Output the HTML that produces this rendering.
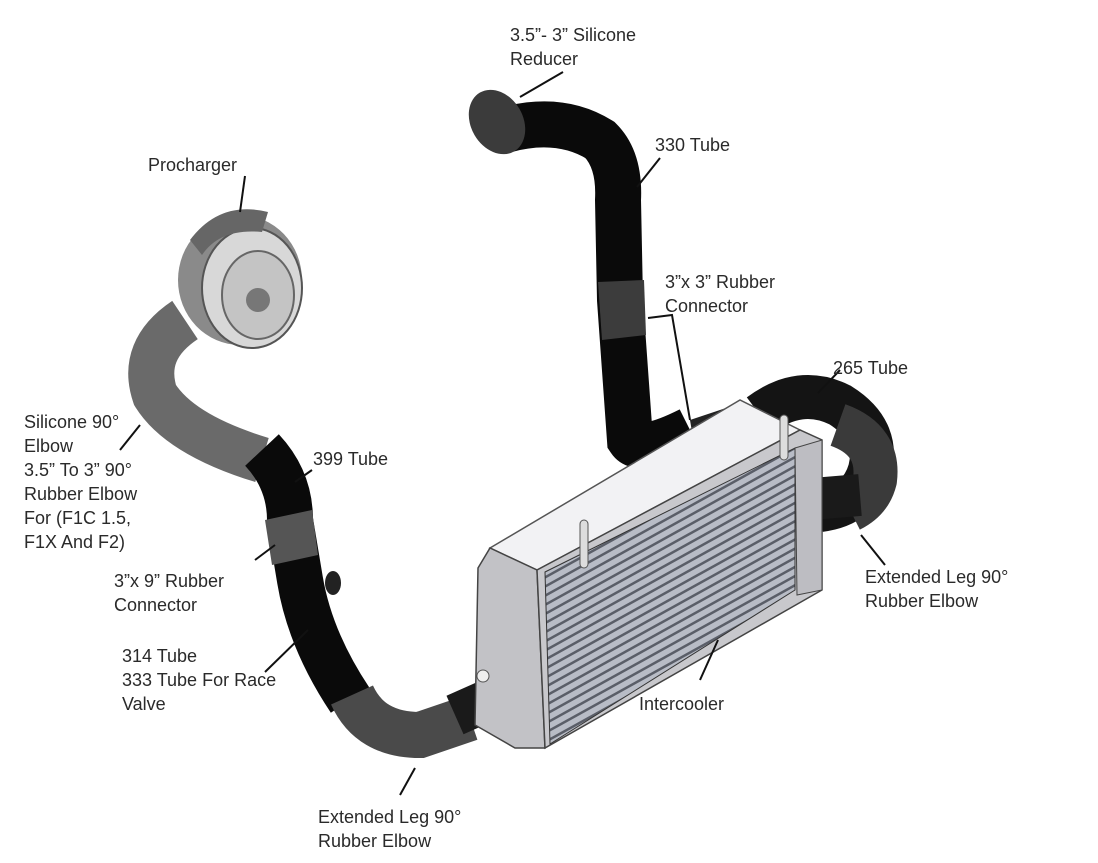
<!DOCTYPE html>
<html><head><meta charset="utf-8"><style>
html,body{margin:0;padding:0;background:#fff;}
svg{display:block}
text{font-family:"Liberation Sans",sans-serif;font-size:18px;fill:#2a2a2a;}
</style></head><body>
<svg width="1098" height="863" viewBox="0 0 1098 863">
<defs>
<pattern id="fins" width="8" height="8" patternUnits="userSpaceOnUse" patternTransform="rotate(-29)">
<rect width="8" height="8" fill="#b8bcc6"/><rect y="0" width="8" height="2.5" fill="#5a5e68"/>
</pattern>
</defs>
<!-- top tube 330 -->
<path d="M505 130 Q560 115 600 140 Q620 160 618 200 L620 300 L630 440 Q640 455 690 430" fill="none" stroke="#0a0a0a" stroke-width="46"/>
<ellipse cx="497" cy="122" rx="26" ry="34" fill="#3b3b3b" transform="rotate(-30 497 122)"/>
<path d="M598 282 L644 280 L646 335 L602 340 Z" fill="#3c3c3c"/>
<path d="M690 420 L735 405 L740 440 L695 450 Z" fill="#222"/>
<!-- 265 tube / right elbow -->
<path d="M760 415 Q800 385 840 405 Q880 430 870 470 Q860 505 820 510" fill="none" stroke="#141414" stroke-width="44"/>
<path d="M838 425 Q880 440 875 480 Q870 500 850 510" fill="none" stroke="#3a3a3a" stroke-width="44"/>
<path d="M800 500 L860 495" stroke="#1a1a1a" stroke-width="42"/>
<!-- left procharger elbow -->
<path d="M185 320 Q140 350 155 395 Q180 435 262 460" fill="none" stroke="#6a6a6a" stroke-width="46"/>
<path d="M262 450 Q290 480 290 520 L300 580 Q310 640 350 700" fill="none" stroke="#0a0a0a" stroke-width="46"/>
<path d="M265 520 L312 510 L318 555 L272 565 Z" fill="#555"/>
<ellipse cx="333" cy="583" rx="8" ry="12" fill="#222"/>
<path d="M352 695 Q370 735 420 735 L470 718" fill="none" stroke="#4a4a4a" stroke-width="46"/>
<path d="M455 715 L500 695" stroke="#1a1a1a" stroke-width="42"/>
<g>
<ellipse cx="240" cy="280" rx="62" ry="65" fill="#8a8a8a"/>
<ellipse cx="252" cy="288" rx="50" ry="60" fill="#d8d8d8" stroke="#555" stroke-width="2"/>
<ellipse cx="258" cy="295" rx="36" ry="44" fill="#c4c4c4" stroke="#666" stroke-width="2"/>
<circle cx="258" cy="300" r="12" fill="#777"/>
<path d="M190 240 Q220 200 268 212 L262 232 Q220 228 202 255Z" fill="#666"/>
</g>
<!-- intercooler -->
<path d="M490 548 L740 400 L800 430 L537 570 Z" fill="#f2f2f4" stroke="#555" stroke-width="1.5"/>
<path d="M478 568 L490 548 L537 570 L545 748 L515 748 L475 725 Z" fill="#c2c2c6" stroke="#444" stroke-width="1.5"/>
<path d="M537 570 L800 430 L822 440 L822 590 L545 748 Z" fill="#c8c8cc" stroke="#444" stroke-width="1.5"/>
<path d="M545 572 L795 448 L795 590 L550 744 Z" fill="url(#fins)" stroke="#333"/>
<path d="M795 448 L822 440 L822 590 L797 595Z" fill="#bdbdc2" stroke="#444"/>
<rect x="580" y="520" width="8" height="48" rx="4" fill="#ddd" stroke="#555"/>
<rect x="780" y="415" width="8" height="45" rx="4" fill="#ddd" stroke="#555"/>
<ellipse cx="483" cy="676" rx="6" ry="6" fill="#eee" stroke="#555"/>
<!-- leader lines -->
<g stroke="#111" stroke-width="2" fill="none">
<path d="M520 97 L563 72"/>
<path d="M637 187 L660 158"/>
<path d="M648 318 L672 315 L690 420"/>
<path d="M818 393 L840 370"/>
<path d="M861 535 L885 565"/>
<path d="M700 680 L718 640"/>
<path d="M400 795 L415 768"/>
<path d="M245 176 L240 212"/>
<path d="M120 450 L140 425"/>
<path d="M295 482 L312 470"/>
<path d="M255 560 L275 545"/>
<path d="M265 672 L308 630"/>
</g>
<!-- labels -->
<text x="510" y="41">3.5”- 3” Silicone</text>
<text x="510" y="65">Reducer</text>
<text x="655" y="151">330 Tube</text>
<text x="148" y="171">Procharger</text>
<text x="665" y="288">3”x 3” Rubber</text>
<text x="665" y="312">Connector</text>
<text x="833" y="374">265 Tube</text>
<text x="24" y="428">Silicone 90°</text>
<text x="24" y="452">Elbow</text>
<text x="24" y="476">3.5” To 3” 90°</text>
<text x="24" y="500">Rubber Elbow</text>
<text x="24" y="524">For (F1C 1.5,</text>
<text x="24" y="548">F1X And F2)</text>
<text x="313" y="465">399 Tube</text>
<text x="114" y="587">3”x 9” Rubber</text>
<text x="114" y="611">Connector</text>
<text x="865" y="583">Extended Leg 90°</text>
<text x="865" y="607">Rubber Elbow</text>
<text x="122" y="662">314 Tube</text>
<text x="122" y="686">333 Tube For Race</text>
<text x="122" y="710">Valve</text>
<text x="639" y="710">Intercooler</text>
<text x="318" y="823">Extended Leg 90°</text>
<text x="318" y="847">Rubber Elbow</text>
</svg>
</body></html>
